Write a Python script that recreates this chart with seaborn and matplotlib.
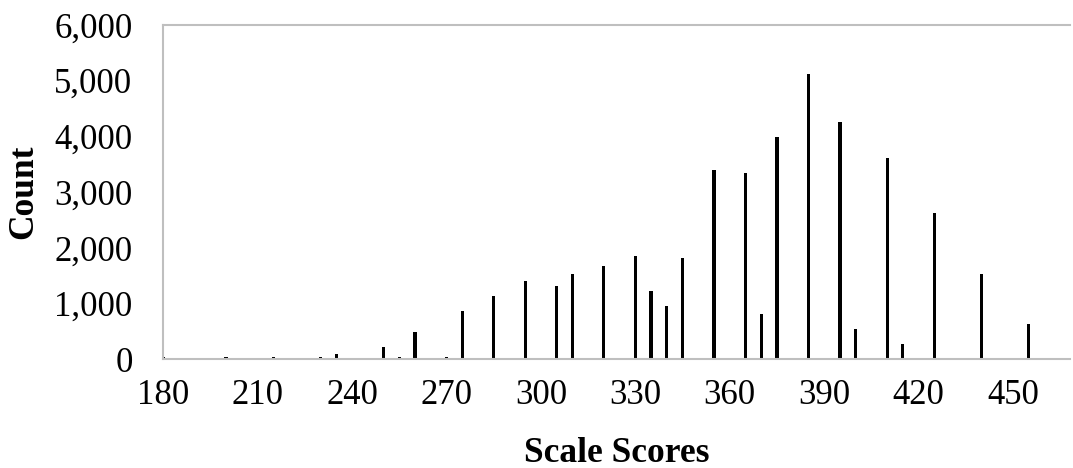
import matplotlib
matplotlib.use("Agg")
import matplotlib.pyplot as plt
from matplotlib.ticker import FuncFormatter
import seaborn as sns

# scale score values and the counts
scores = [180, 200, 215, 230, 235, 250, 255, 260, 270, 275,
          285, 295, 305, 310, 320, 330, 335, 340, 345, 355,
          365, 370, 375, 385, 395, 400, 410, 415, 425, 440, 455]
counts = [40, 40, 40, 40, 100, 230, 50, 500, 50, 860,
          1130, 1400, 1310, 1540, 1680, 1860, 1220, 960, 1815, 3400,
          3350, 815, 3985, 5120, 4260, 545, 3620, 270, 2620, 1540, 630]

x_ticks = [180, 210, 240, 270, 300, 330, 360, 390, 420, 450]
y_ticks = [0, 1000, 2000, 3000, 4000, 5000, 6000]

sns.set_style("white")
plt.rcParams['font.family'] = ['Liberation Serif', 'DejaVu Serif']

fig = plt.figure(figsize=(10.73, 4.68), dpi=100)
ax = fig.add_axes([0.152, 0.232, 0.845, 0.715])

sns.barplot(x=scores, y=counts, native_scale=True, width=0.2,
            color='black', errorbar=None, ax=ax, saturation=1,
            linewidth=0)

ax.set_xlim(180, 468)
ax.set_ylim(0, 6000)
ax.set_xticks(x_ticks)
ax.set_yticks(y_ticks)
ax.yaxis.set_major_formatter(FuncFormatter(lambda v, p: f"{int(v):,}"))

grey = '#BFBFBF'
for side in ['left', 'bottom', 'top']:
    ax.spines[side].set_color(grey)
    ax.spines[side].set_linewidth(1.5)
ax.spines['right'].set_visible(False)

ax.tick_params(axis='both', which='major', direction='out', length=7,
               width=1.5, color=grey, labelsize=25, labelcolor='black')
ax.tick_params(axis='x', pad=7)
ax.tick_params(axis='y', pad=15)

ax.set_xlabel('Scale Scores', fontsize=25.5, fontweight='bold', color='black')
ax.set_ylabel('Count', fontsize=25.5, fontweight='bold', color='black')
ax.xaxis.set_label_coords(0.5, -0.232)
ax.yaxis.set_label_coords(-0.136, 0.5)

fig.savefig('out.png', dpi=100)
